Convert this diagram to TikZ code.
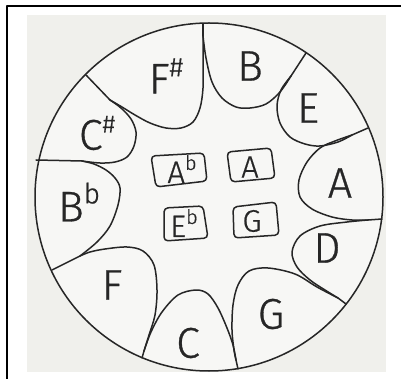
\documentclass[tikz,border=0pt]{standalone}
\usepackage{fontspec}
\setmainfont{Fira Sans}[UprightFont={* Light}]
\newfontfamily\handfont{Fira Sans Light}[FakeBold=0.7]
\definecolor{inkc}{HTML}{262626}
\definecolor{paper}{HTML}{F0F0EC}
\definecolor{drum}{HTML}{F7F7F5}
\newcommand\mysharp[1]{\raisebox{0.40em}{\fontsize{#1}{#1}\selectfont\#}}
\newcommand\myflat[1]{\raisebox{0.42em}{\fontsize{#1}{#1}\selectfont b}}
\begin{document}
\begin{tikzpicture}[x=1pt,y=-1pt,line join=round,line cap=round,
  ink/.style={draw=inkc,line width=1.5pt},
  petal/.style={ink,smooth,tension=0.55},
  keybox/.style={ink,rounded corners=4pt},
  note/.style={text=inkc,font=\handfont\fontsize{43}{43}\selectfont,inner sep=0pt},
  boxnote/.style={text=inkc,font=\handfont\fontsize{31}{31}\selectfont,inner sep=0pt}]
\useasboundingbox (0,0) rectangle (401,379);
\fill[white] (0,0) rectangle (401,379);
\fill[paper] (27,15) rectangle (386,372);
% frame
\draw[black,line width=2.5pt,line cap=butt] (7,379) -- (7,6) -- (401,6);
% drum
\coordinate (c) at (209,197);
\fill[drum] (c) circle[radius=174];
\draw[ink] (c) circle[radius=174];
% divider points on rim (P) and branch points (Q)
\coordinate (P1) at (203,24);  \coordinate (Q1) at (203,36);
\coordinate (P2) at (306,53);  \coordinate (Q2) at (291,76);
\coordinate (P3) at (368,128); \coordinate (Q3) at (352,135);
\coordinate (P4) at (382,219); \coordinate (Q4) at (368,220);
\coordinate (P5) at (346,304); \coordinate (Q5) at (338,298);
\coordinate (P6) at (238,369); \coordinate (Q6) at (236,360);
\coordinate (P7) at (142,358); \coordinate (Q7) at (144,351);
\coordinate (P8) at (52,270);  \coordinate (Q8) at (80,256);
\coordinate (P9) at (36,160);  \coordinate (Q9) at (82,161);
\coordinate (P10) at (86,75);  \coordinate (Q10) at (110,100);
\foreach \i in {1,...,10} {\draw[ink] (P\i) -- (Q\i);}
% petals
\draw[petal] plot coordinates {(Q10) (122,107) (135,115) (150,123) (166,128) (181,128) (193,122) (200,108) (203,88) (203,60) (Q1)};
\draw[petal] plot coordinates {(Q1) (206,58) (212,82) (222,98) (236,107) (250,108) (266,104) (280,92) (Q2)};
\draw[petal] plot coordinates {(Q2) (281,90) (277,106) (280,123) (290,137) (305,144) (320,146) (338,142) (Q3)};
\draw[petal] plot coordinates {(Q3) (335,141) (320,148) (307,162) (299,180) (300,197) (312,209) (332,217) (352,220) (Q4)};
\draw[petal] plot coordinates {(Q4) (347,222) (320,226) (300,236) (292,252) (297,267) (310,280) (325,290) (Q5)};
\draw[petal] plot coordinates {(Q5) (317,287) (295,274) (268,268) (249,271) (238,285) (233,305) (232,330) (234,350) (Q6)};
\draw[petal] plot coordinates {(Q6) (233,345) (227,328) (218,308) (208,294) (196,290) (178,295) (162,312) (151,332) (Q7)};
\draw[petal] plot coordinates {(Q7) (149,335) (155,315) (157,290) (154,265) (143,251) (127,247) (105,249) (90,252) (Q8)};
\draw[petal] plot coordinates {(Q8) (97,242) (110,226) (118,205) (120,188) (115,178) (106,170) (94,164) (Q9)};
\draw[petal] plot coordinates {(Q9) (100,163) (115,162) (127,157) (134,146) (136,132) (131,119) (121,108) (Q10)};
% outer note names
\node[note] (nFs) at (166,76) {F\mysharp{27}};
\node[note] (nB)  at (250,66) {B};
\node[note] (nE)  at (308,108) {E};
\node[note] (nA)  at (340,183) {A};
\node[note] (nD)  at (327,248) {D};
\node[note] (nG)  at (271,314) {G};
\node[note] (nC)  at (188,343) {C};
\node[note] (nF)  at (112,285) {F};
\node[note] (nBb) at (79,202) {B\myflat{28}};
\node[note] (nCs) at (97,133) {C\mysharp{25}};
% inner keys
\draw[keybox] (151,156) -- (204,153) -- (207,181) -- (156,187) -- cycle;
\draw[keybox] (227,152) -- (271,148) -- (275,178) -- (231,182) -- cycle;
\draw[keybox] (164,208) -- (203,206) -- (208,238) -- (164,241) -- cycle;
\draw[keybox] (233,207) -- (276,202) -- (279,235) -- (234,238) -- cycle;
\node[boxnote] (kAb) at (182,169) {A\myflat{20}};
\node[boxnote] (kA)  at (250,167) {A};
\node[boxnote] (kEb) at (184,223) {E\myflat{20}};
\node[boxnote] (kG)  at (252,221) {G};
\end{tikzpicture}
\end{document}
